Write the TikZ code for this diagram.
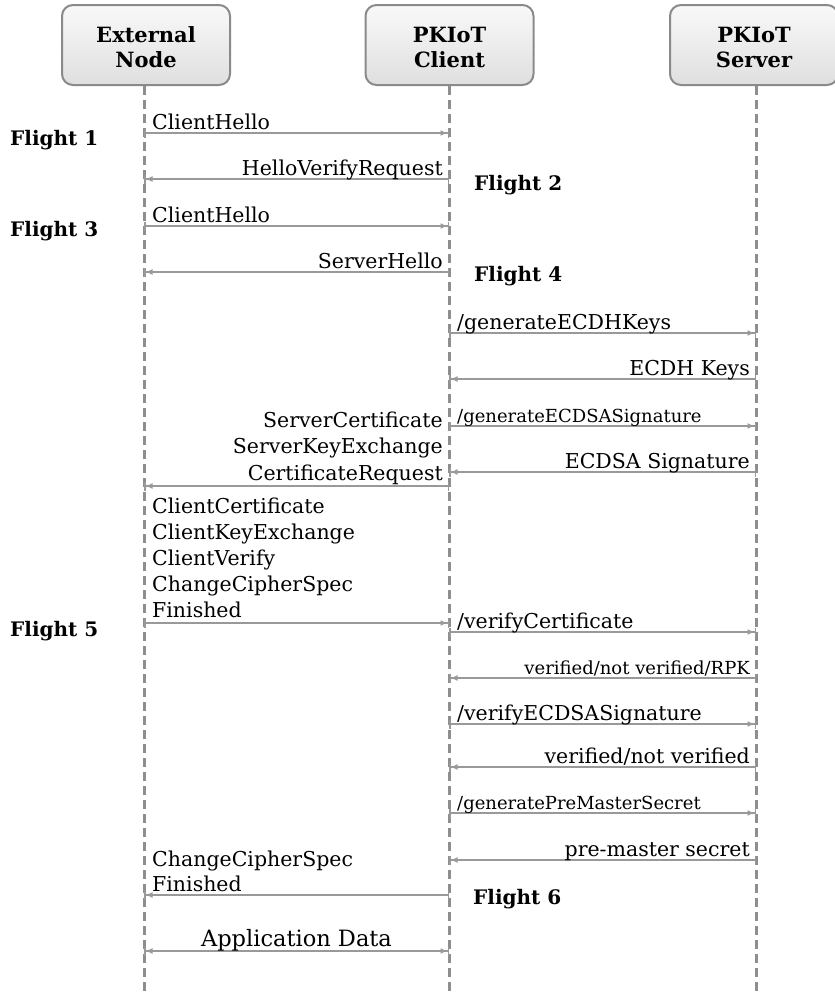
\documentclass[tikz,border=0pt]{standalone}
\usepackage{fontspec}
\setmainfont{DejaVu Serif}
\usetikzlibrary{arrows.meta}
\definecolor{boxline}{HTML}{8A8A8A}
\definecolor{lifeline}{HTML}{8E8E8E}
\definecolor{msgline}{HTML}{999999}
\newcommand\msgfont{\fontsize{20.5}{24}\selectfont}
\newcommand\smallmsgfont{\fontsize{18}{21}\selectfont}
\newcommand\datafont{\fontsize{22.5}{26}\selectfont}
\newcommand\flightfont{\fontsize{20}{24}\selectfont\bfseries}
\begin{document}
\begin{tikzpicture}[x=1pt,y=-1pt,
  actor/.style={draw=boxline, line width=2pt, rounded corners=11pt,
    top color=gray!5, bottom color=gray!25,
    minimum width=168pt, minimum height=80pt, inner sep=0pt},
  actortext/.style={font=\fontsize{21}{25}\selectfont\bfseries, inner sep=0pt, anchor=base},
  life/.style={draw=lifeline, line width=3pt, dash pattern=on 9pt off 5pt},
  msg/.style={draw=msgline, line width=1.6pt,
    arrows={Bar[width=9pt,line width=1.5pt]-{Latex[length=7pt,width=6pt] Bar[width=9pt,line width=1.5pt]}}},
  both/.style={draw=msgline, line width=1.6pt,
    arrows={{Bar[width=9pt,line width=1.5pt] Latex[length=7pt,width=6pt]}-{Latex[length=7pt,width=6pt] Bar[width=9pt,line width=1.5pt]}}},
  lblL/.style={font=\msgfont, inner sep=0pt, anchor=base west},
  lblR/.style={font=\msgfont, inner sep=0pt, anchor=base east},
  flight/.style={font=\flightfont, inner sep=0pt, anchor=base west}]

\useasboundingbox (0,0) rectangle (835,996);
\begin{scope}
\clip (0,0) rectangle (835,996);

% participant heads
\node[actor] (ext) at (146,45) {};
\node[actor] (cli) at (449.5,45) {};
\node[actor] (srv) at (754,45) {};
\node[actortext] (extA) at (146,42) {External};
\node[actortext] (extB) at (146,67) {Node};
\node[actortext] (cliA) at (449.5,42) {PKIoT};
\node[actortext] (cliB) at (449.5,67) {Client};
\node[actortext] (srvA) at (754,42) {PKIoT};
\node[actortext] (srvB) at (754,67) {Server};

% lifelines
\coordinate (eEnd) at (144,996);
\coordinate (cEnd) at (449,996);
\coordinate (sEnd) at (756,996);
\draw[life] (144,86) coordinate (eTop) -- (eEnd);
\draw[life] (449,86) coordinate (cTop) -- (cEnd);
\draw[life] (756,86) coordinate (sTop) -- (sEnd);
\end{scope}

% anchor points on the lifelines
\foreach \n/\y in {1/133,2/179,3/226,4/272,9/486,10/623,17/895,18/951}{
  \coordinate (e\n) at (144,\y);
  \coordinate (c\n) at (449,\y);
}
\foreach \n/\y in {5/333,6/379,7/426,8/472,11/632,12/678,13/724,14/767,15/813,16/860}{
  \coordinate (c\n) at (449,\y);
  \coordinate (s\n) at (756,\y);
}

% messages between external node and client
\draw[msg] (e1) -- (c1);
\node[lblL] (m1) at (152,129) {ClientHello};
\draw[msg] (c2) -- (e2);
\node[lblR] (m2) at (443,175) {HelloVerifyRequest};
\draw[msg] (e3) -- (c3);
\node[lblL] (m3) at (152,222) {ClientHello};
\draw[msg] (c4) -- (e4);
\node[lblR] (m4) at (443,268) {ServerHello};

% client and server
\draw[msg] (c5) -- (s5);
\node[lblL] (m5) at (457,329) {/generateECDHKeys};
\draw[msg] (s6) -- (c6);
\node[lblR] (m6) at (750,375) {ECDH Keys};
\draw[msg] (c7) -- (s7);
\node[lblL, font=\smallmsgfont] (m7) at (457,422) {/generateECDSASignature};
\draw[msg] (s8) -- (c8);
\node[lblR] (m8) at (750,468) {ECDSA Signature};

\draw[msg] (c9) -- (e9);
\node[lblR] (m9a) at (443,427) {ServerCertificate};
\node[lblR] (m9b) at (443,453) {ServerKeyExchange};
\node[lblR] (m9c) at (443,480) {CertificateRequest};

\draw[msg] (e10) -- (c10);
\node[lblL] (m10a) at (152,513) {ClientCertificate};
\node[lblL] (m10b) at (152,539) {ClientKeyExchange};
\node[lblL] (m10c) at (152,565) {ClientVerify};
\node[lblL] (m10d) at (152,591) {ChangeCipherSpec};
\node[lblL] (m10e) at (152,617) {Finished};

\draw[msg] (c11) -- (s11);
\node[lblL] (m11) at (457,628) {/verifyCertificate};
\draw[msg] (s12) -- (c12);
\node[lblR, font=\smallmsgfont] (m12) at (750,674) {verified/not verified/RPK};
\draw[msg] (c13) -- (s13);
\node[lblL] (m13) at (457,720) {/verifyECDSASignature};
\draw[msg] (s14) -- (c14);
\node[lblR] (m14) at (750,763) {verified/not verified};
\draw[msg] (c15) -- (s15);
\node[lblL, font=\smallmsgfont] (m15) at (457,809) {/generatePreMasterSecret};
\draw[msg] (s16) -- (c16);
\node[lblR] (m16) at (750,856) {pre-master secret};

\draw[msg] (c17) -- (e17);
\node[lblL] (m17a) at (152,866) {ChangeCipherSpec};
\node[lblL] (m17b) at (152,891) {Finished};

\draw[both] (e18) -- (c18);
\node[font=\datafont, inner sep=0pt, anchor=base] (m18) at (296.5,946) {Application Data};

% flight markers
\node[flight] (f1) at (10,145) {Flight 1};
\node[flight] (f2) at (474,190) {Flight 2};
\node[flight] (f3) at (10,236) {Flight 3};
\node[flight] (f4) at (474,281) {Flight 4};
\node[flight] (f5) at (10,636) {Flight 5};
\node[flight] (f6) at (473,904) {Flight 6};
\end{tikzpicture}
\end{document}
